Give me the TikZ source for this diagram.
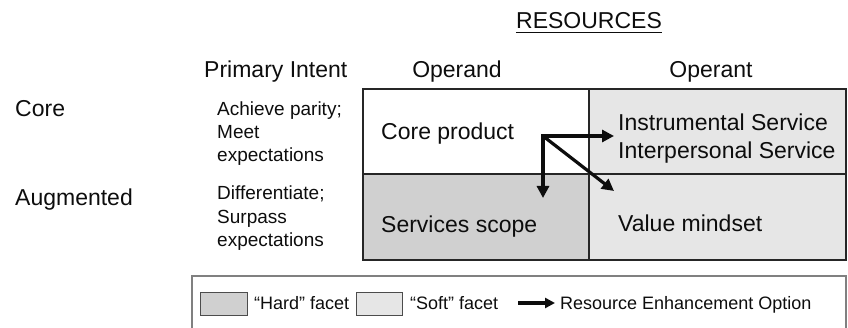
\documentclass[tikz,border=0pt]{standalone}
\usepackage{fontspec}
\setmainfont{Liberation Sans}
\usetikzlibrary{arrows.meta}
\definecolor{hardgray}{HTML}{D0D0D0}
\definecolor{softgray}{HTML}{E6E6E6}
\definecolor{legendline}{HTML}{808080}
\tikzset{
  big/.style={inner sep=0pt, font=\fontsize{23}{23}\selectfont, text=black!95},
  small/.style={inner sep=0pt, font=\fontsize{19}{23}\selectfont, text=black!95},
  leg/.style={inner sep=0pt, font=\fontsize{18}{18}\selectfont, text=black!95},
  cell/.style={draw=black!85, line width=1.1pt},
  swatch/.style={draw=black!70, line width=0.9pt},
  enh/.style={line width=3.2pt, draw=black!95, -{Triangle[length=12pt,width=12pt]}},
}
\begin{document}
\begin{tikzpicture}[x=1pt,y=-1pt]
\useasboundingbox (0,0) rectangle (848,328);
% grid cells
\fill[white] (363,89) rectangle (589,174);
\fill[softgray] (589,89) rectangle (846,260);
\fill[hardgray] (363,174) rectangle (589,260);
\draw[cell] (363,89) rectangle (846,260);
\draw[cell] (589,89) -- (589,260);
\draw[cell] (363,174) -- (846,174);
% headings
\node[big, anchor=base] (res) at (589,29) {RESOURCES};
\draw[line width=1.4pt, black!95] ([yshift=-3.5pt]res.base west) -- ([yshift=-3.5pt]res.base east);
\node[big, anchor=base west] (pi) at (204,78) {Primary Intent};
\node[big, anchor=base] (opd) at (457,78) {Operand};
\node[big, anchor=base] (opt) at (711,78) {Operant};
% row labels
\node[big, anchor=base west] (core) at (15,117) {Core};
\node[big, anchor=base west] (aug) at (15,206) {Augmented};
% intents
\node[small, anchor=base west] (i1) at (217,116) {Achieve parity;};
\node[small, anchor=base west] (i2) at (217,139) {Meet};
\node[small, anchor=base west] (i3) at (217,162) {expectations};
\node[small, anchor=base west] (i4) at (217,200) {Differentiate;};
\node[small, anchor=base west] (i5) at (217,224) {Surpass};
\node[small, anchor=base west] (i6) at (217,247) {expectations};
% cell texts
\node[big, anchor=base west] (cp) at (381,140) {Core product};
\node[big, anchor=base west] (ss) at (381,233) {Services scope};
\node[big, anchor=base west] (is) at (618,131) {Instrumental Service};
\node[big, anchor=base west] (ips) at (618,159) {Interpersonal Service};
\node[big, anchor=base west] (vm) at (618,232) {Value mindset};
% arrows
\coordinate (o) at (543,136);
\coordinate (tH) at (614,136);
\coordinate (tV) at (543,198);
\coordinate (tD) at (614,191);
\draw[enh] ([xshift=-1.6pt]o) -- (tH);
\draw[enh] ([yshift=-1.6pt]o) -- (tV);
\draw[enh] (o) -- (tD);
% legend
\draw[draw=legendline, line width=1.4pt] (192,334) -- (192,276) -- (846,276) -- (846,334);
\draw[swatch, fill=hardgray] (200,292) rectangle (247,315);
\node[leg, anchor=base west] (lh) at (254,309.5) {“Hard” facet};
\draw[swatch, fill=softgray] (356,292) rectangle (402,315);
\node[leg, anchor=base west] (ls) at (410,309.5) {“Soft” facet};
\coordinate (la) at (518,303);
\coordinate (lb) at (555,303);
\draw[enh, -{Triangle[length=10pt,width=10pt]}] (la) -- (lb);
\node[leg, anchor=base west] (lr) at (560,309.5) {Resource Enhancement Option};
\end{tikzpicture}
\end{document}
